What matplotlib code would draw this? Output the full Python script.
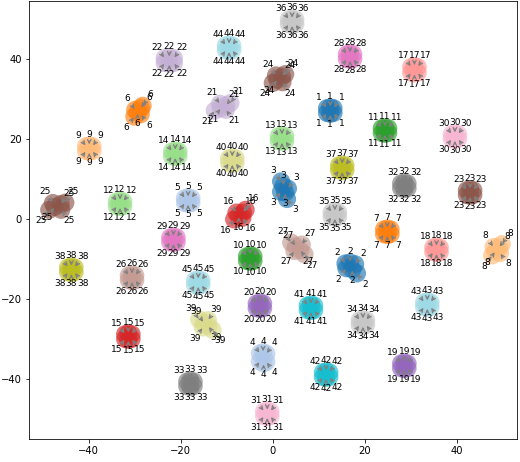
import matplotlib
matplotlib.use("Agg")
import matplotlib.pyplot as plt
import numpy as np

# class id for each blob (1..45)
labels = list(range(1, 46))

# embedded x coordinates, one row of samples per class
blob_x = [
    [11.8, 12.5, 13.2, 11.8, 12.5, 13.2],
    [15.8, 16.8, 17.9, 16.0, 17.3, 18.3],
    [1.8, 2.3, 3.3, 1.8, 2.7, 3.1],
    [-2.8, -2.1, -1.4, -2.8, -2.0, -1.4],
    [-19.1, -18.4, -17.7, -19.1, -18.4, -17.7],
    [-30.1, -29.4, -28.7, -28.3, -29.9, -28.7],
    [24.2, 24.9, 25.6, 24.2, 24.9, 25.6],
    [47.7, 48.4, 49.2, 49.8, 48.0, 49.4],
    [-40.6, -39.9, -39.2, -40.6, -39.9, -39.2],
    [-5.6, -4.9, -4.2, -5.6, -4.9, -4.2],
    [23.7, 24.4, 25.1, 23.7, 24.4, 25.1],
    [-33.9, -33.2, -32.5, -33.9, -33.2, -32.5],
    [1.3, 2.0, 2.7, 1.3, 2.0, 2.7],
    [-21.9, -21.2, -20.5, -21.9, -21.2, -20.5],
    [-32.1, -31.4, -30.7, -32.1, -31.4, -30.7],
    [-8.4, -7.4, -6.5, -5.9, -7.9, -6.6],
    [30.1, 30.8, 31.5, 30.1, 30.8, 31.5],
    [34.9, 35.6, 36.3, 34.9, 35.6, 36.3],
    [27.9, 28.6, 29.3, 27.9, 28.6, 29.3],
    [-3.5, -2.8, -2.1, -3.5, -2.8, -2.1],
    [-12.6, -11.3, -10.1, -9.2, -11.5, -10.2],
    [-23.5, -22.5, -21.5, -23.5, -22.5, -21.5],
    [42.2, 42.9, 43.6, 42.2, 42.9, 43.6],
    [0.0, 1.0, 2.0, 2.7, 0.7, 2.1],
    [-48.6, -47.4, -46.1, -45.1, -47.8, -46.0],
    [-31.3, -30.6, -29.9, -31.3, -30.6, -29.9],
    [4.0, 5.0, 6.0, 6.9, 4.7, 6.3],
    [16.1, 16.8, 17.5, 16.1, 16.8, 17.5],
    [-22.3, -21.6, -20.9, -22.3, -21.6, -20.9],
    [38.9, 39.6, 40.3, 38.9, 39.6, 40.3],
    [-1.9, -1.2, -0.5, -1.9, -1.2, -0.5],
    [27.9, 28.6, 29.3, 27.9, 28.6, 29.3],
    [-18.6, -17.9, -17.2, -18.6, -17.9, -17.2],
    [18.9, 19.6, 20.3, 18.9, 19.6, 20.3],
    [12.8, 13.5, 14.2, 12.8, 13.5, 14.2],
    [3.5, 4.2, 4.9, 3.5, 4.2, 4.9],
    [14.4, 15.1, 15.8, 14.4, 15.1, 15.8],
    [-44.5, -43.8, -43.1, -44.5, -43.8, -43.1],
    [-16.0, -15.0, -14.0, -13.1, -15.2, -14.1],
    [-9.5, -8.8, -8.1, -9.5, -8.8, -8.1],
    [7.6, 8.3, 9.0, 7.6, 8.3, 9.0],
    [10.9, 11.6, 12.3, 10.9, 11.6, 12.3],
    [32.9, 33.6, 34.3, 32.9, 33.6, 34.3],
    [-10.2, -9.5, -8.8, -10.2, -9.5, -8.8],
    [-16.9, -16.2, -15.5, -16.9, -16.2, -15.5],
]

# embedded y coordinates, same layout as blob_x
blob_y = [
    [27.7, 27.9, 27.7, 26.5, 26.3, 26.5],
    [-11.1, -10.9, -11.3, -12.3, -12.6, -13.6],
    [9.4, 8.2, 7.6, 6.8, 6.6, 5.0],
    [-33.6, -33.3, -33.7, -35.6, -36.1, -35.7],
    [5.2, 5.4, 5.2, 4.0, 3.8, 4.0],
    [25.6, 26.6, 27.7, 28.3, 27.3, 26.2],
    [-2.6, -2.4, -2.6, -3.8, -4.0, -3.8],
    [-9.1, -8.1, -7.1, -6.3, -7.0, -8.5],
    [18.2, 18.4, 18.2, 17.0, 16.8, 17.0],
    [-9.3, -9.1, -9.3, -10.5, -10.7, -10.5],
    [22.7, 22.9, 22.7, 21.5, 21.3, 21.5],
    [4.4, 4.6, 4.4, 3.2, 3.0, 3.2],
    [20.7, 20.9, 20.7, 19.5, 19.3, 19.5],
    [16.9, 17.1, 16.9, 15.7, 15.5, 15.7],
    [-28.8, -28.6, -28.8, -30.0, -30.2, -30.0],
    [-0.1, 0.7, 1.6, 2.3, 1.6, 0.3],
    [38.0, 38.2, 38.0, 36.6, 36.4, 36.6],
    [-7.1, -6.9, -7.1, -8.3, -8.5, -8.3],
    [-36.1, -35.9, -36.1, -37.3, -37.5, -37.3],
    [-21.1, -20.9, -21.1, -22.3, -22.5, -22.3],
    [27.1, 27.7, 28.4, 29.0, 28.8, 27.3],
    [40.2, 40.4, 40.2, 39.0, 38.8, 39.0],
    [7.2, 7.4, 7.2, 6.0, 5.8, 6.0],
    [34.0, 34.8, 35.6, 36.2, 35.9, 34.2],
    [2.3, 3.0, 3.7, 4.1, 4.0, 2.3],
    [-14.1, -13.9, -14.1, -15.3, -15.5, -15.3],
    [-5.9, -6.8, -7.8, -8.8, -8.0, -6.4],
    [41.2, 41.4, 41.2, 40.0, 39.8, 40.0],
    [-4.6, -4.4, -4.6, -5.8, -6.0, -5.8],
    [21.2, 21.4, 21.2, 20.0, 19.8, 20.0],
    [-48.1, -47.9, -48.1, -49.3, -49.5, -49.3],
    [8.9, 9.1, 8.9, 7.7, 7.5, 7.7],
    [-40.6, -40.4, -40.6, -41.8, -42.0, -41.8],
    [-25.3, -25.1, -25.3, -26.5, -26.7, -26.5],
    [1.7, 1.9, 1.7, 0.5, 0.3, 0.5],
    [49.9, 50.1, 49.9, 48.7, 48.5, 48.7],
    [13.4, 13.6, 13.4, 12.2, 12.0, 12.2],
    [-12.1, -11.9, -12.1, -13.3, -13.5, -13.3],
    [-25.1, -25.9, -26.8, -27.7, -27.1, -25.3],
    [15.2, 15.4, 15.2, 14.0, 13.8, 14.0],
    [-21.6, -21.4, -21.6, -22.8, -23.0, -22.8],
    [-38.3, -38.1, -38.3, -39.5, -39.7, -39.5],
    [-20.8, -20.6, -20.8, -22.0, -22.2, -22.0],
    [43.4, 43.6, 43.4, 42.2, 42.0, 42.2],
    [-15.3, -15.1, -15.3, -16.5, -16.7, -16.5],
]

fig = plt.figure(figsize=(520 / 72, 462 / 72), dpi=72)
ax = fig.add_axes([29 / 520, 23 / 462, 488 / 520, 438 / 462])

# scatter of all samples, coloured by class
xs = np.concatenate([np.array(r) for r in blob_x])
ys = np.concatenate([np.array(r) for r in blob_y])
cs = np.concatenate([[lab] * len(r) for lab, r in zip(labels, blob_x)])
ax.scatter(xs, ys, c=cs, cmap="tab20", vmin=1, vmax=45, s=330,
           alpha=0.65, linewidths=0)

# label each sample with its class id, text pushed away from the blob centre
for lab, row_x, row_y in zip(labels, blob_x, blob_y):
    mx, my = np.mean(row_x), np.mean(row_y)
    for x, y in zip(row_x, row_y):
        if x < mx - 0.3:
            dx = -8
        elif x > mx + 0.3:
            dx = 8
        else:
            dx = 0
        dy = 11 if y > my else -11
        ax.annotate(str(lab), xy=(x, y), xytext=(dx, dy),
                    textcoords="offset points", ha="center", va="center",
                    fontsize=9,
                    arrowprops=dict(arrowstyle="->", color="gray", lw=1.2,
                                    shrinkA=0, shrinkB=1))

ax.set_xlim(-53, 53.1)
ax.set_ylim(-55, 54.5)
ax.set_xticks([-40, -20, 0, 20, 40])
ax.set_yticks([-40, -20, 0, 20, 40])
ax.tick_params(labelsize=10)

fig.savefig("out.png", dpi=72)
